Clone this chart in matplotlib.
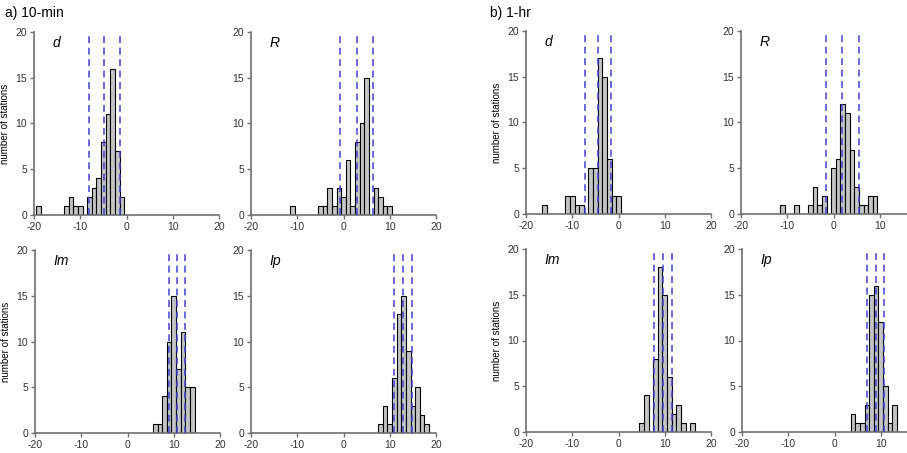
import matplotlib.pyplot as plt

plt.rcParams['font.family'] = ['Liberation Sans', 'DejaVu Sans']
plt.rcParams['axes.unicode_minus'] = False

# histogram bins (integer centres) and number of stations, a) 10-min
a_d_bins = [-19, -13, -12, -11, -10, -8, -7, -6, -5, -4, -3, -2, -1]
a_d_counts = [1, 1, 2, 1, 1, 2, 3, 4, 8, 11, 16, 7, 2]
a_d_lines = [-8.1, -4.8, -1.5]

a_R_bins = [-11, -5, -4, -3, -2, -1, 0, 1, 2, 3, 4, 5, 7, 8, 9, 10]
a_R_counts = [1, 1, 1, 3, 1, 3, 2, 6, 1, 8, 10, 15, 3, 2, 1, 1]
a_R_lines = [-0.7, 2.9, 6.4]

a_Im_bins = [6, 7, 8, 9, 10, 11, 12, 13, 14]
a_Im_counts = [1, 1, 4, 10, 15, 7, 11, 5, 5]
a_Im_lines = [8.9, 10.6, 12.4]

a_Ip_bins = [8, 9, 10, 11, 12, 13, 14, 15, 16, 17, 18]
a_Ip_counts = [1, 3, 1, 6, 13, 15, 9, 3, 5, 2, 1]
a_Ip_lines = [10.9, 12.9, 14.9]

# b) 1-hr
b_d_bins = [-16, -11, -10, -9, -8, -6, -5, -4, -3, -2, -1, 0]
b_d_counts = [1, 2, 2, 1, 1, 5, 5, 17, 15, 6, 2, 2]
b_d_lines = [-7.3, -4.45, -1.6]

b_R_bins = [-11, -8, -5, -4, -3, -2, 0, 1, 2, 3, 4, 5, 6, 7, 8, 9]
b_R_counts = [1, 1, 1, 3, 1, 2, 5, 6, 12, 11, 7, 3, 1, 1, 2, 2]
b_R_lines = [-1.7, 1.85, 5.5]

b_Im_bins = [5, 6, 8, 9, 10, 11, 12, 13, 14, 16]
b_Im_counts = [1, 4, 8, 18, 15, 6, 2, 3, 1, 1]
b_Im_lines = [7.7, 9.6, 11.5]

b_Ip_bins = [4, 5, 6, 7, 8, 9, 10, 11, 12, 13]
b_Ip_counts = [2, 1, 1, 3, 15, 16, 12, 5, 1, 3]
b_Ip_lines = [7.1, 8.9, 10.6]

panels = [
    ('d', a_d_bins, a_d_counts, a_d_lines, 34, 32, True),
    ('R', a_R_bins, a_R_counts, a_R_lines, 251, 32, False),
    ('Im', a_Im_bins, a_Im_counts, a_Im_lines, 35, 250, True),
    ('Ip', a_Ip_bins, a_Ip_counts, a_Ip_lines, 251, 250, False),
    ('d', b_d_bins, b_d_counts, b_d_lines, 526, 31, True),
    ('R', b_R_bins, b_R_counts, b_R_lines, 741, 31, False),
    ('Im', b_Im_bins, b_Im_counts, b_Im_lines, 526, 249, True),
    ('Ip', b_Ip_bins, b_Ip_counts, b_Ip_lines, 742, 249, False),
]

W, H = 907, 453
fig = plt.figure(figsize=(W / 100, H / 100), dpi=100)
aw, ah = 185, 183
axis_col = '#707070'

for name, bins, counts, lines, px, py, ylab in panels:
    ax = fig.add_axes([px / W, 1 - (py + ah) / H, aw / W, ah / H])
    ax.bar(bins, counts, width=1, color='#c4c4c4', edgecolor='black',
           linewidth=0.8, zorder=2)
    for v in lines:
        ax.plot([v, v], [0, 20], color='#4040d0', linestyle=(0, (4.5, 3)),
                linewidth=1.1, zorder=3, clip_on=False)
    ax.set_xlim(-20, 20)
    ax.set_ylim(0, 20)
    # the right-hand panels of b) run past the edge of the picture
    if px + aw > W:
        ax.set_xticks([-20, -10, 0, 10])
    else:
        ax.set_xticks([-20, -10, 0, 10, 20])
    ax.set_yticks([0, 5, 10, 15, 20])
    for s in ['top', 'right']:
        ax.spines[s].set_visible(False)
    for s in ['left', 'bottom']:
        ax.spines[s].set_color(axis_col)
        ax.spines[s].set_linewidth(1.2)
    ax.tick_params(direction='out', length=3, width=1, color=axis_col,
                   labelsize=7.5, labelcolor='#333333', pad=2)
    ax.text(0.1, 0.94, name, transform=ax.transAxes, fontsize=10,
            fontstyle='italic', va='center', ha='left')
    if ylab:
        ax.set_ylabel('number of stations', fontsize=7)
        ax.yaxis.set_label_coords(-0.13, 0.5)

fig.text(5 / W, 1 - 13 / H, 'a) 10-min', fontsize=10, va='center', ha='left')
fig.text(490 / W, 1 - 13 / H, 'b) 1-hr', fontsize=10, va='center', ha='left')

fig.savefig('out.png', dpi=100)
